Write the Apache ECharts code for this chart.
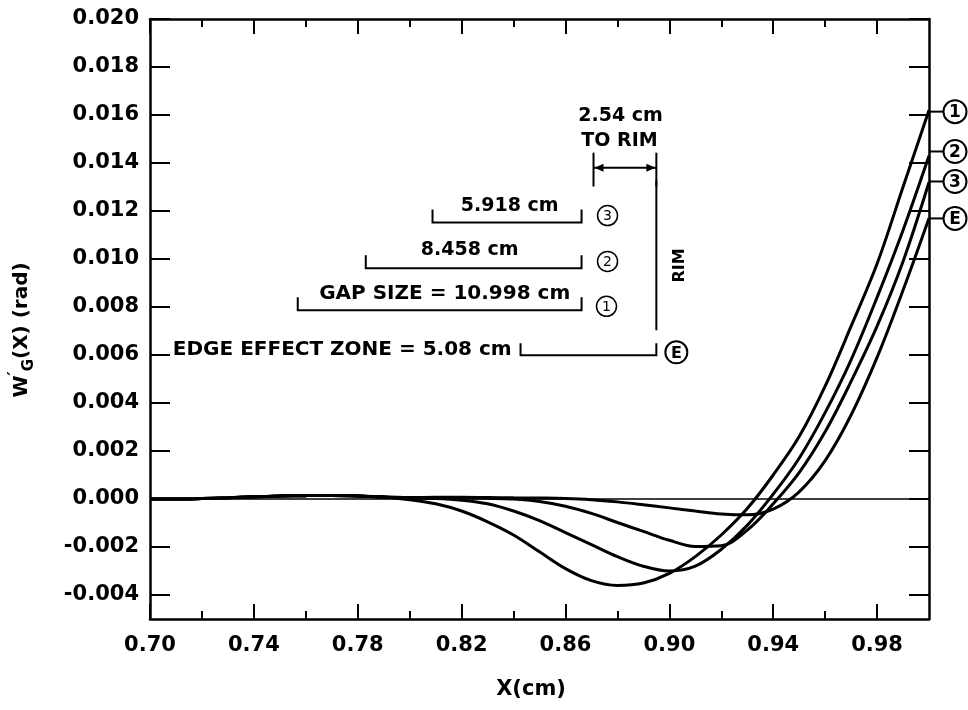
<!DOCTYPE html>
<html>
<head>
<meta charset="utf-8">
<script src="https://cdn.jsdelivr.net/npm/echarts@6/dist/echarts.min.js"></script>
<style>
html, body { margin: 0; padding: 0; background: #fff; }
#main { width: 968px; height: 710px; }
</style>
</head>
<body>
<div id="main"></div>
<script>
// positions along X (cm), one point every 0.01
var xValues = [0.70, 0.71, 0.72, 0.73, 0.74, 0.75, 0.76, 0.77, 0.78, 0.79,
               0.80, 0.81, 0.82, 0.83, 0.84, 0.85, 0.86, 0.87, 0.88, 0.89,
               0.90, 0.91, 0.92, 0.93, 0.94, 0.95, 0.96, 0.97, 0.98, 0.99, 1.00];

// curve 1 : gap size 10.998 cm
var curve1 = [0, 0, 0.00002, 0.00005, 0.00009, 0.00012, 0.00014, 0.00015, 0.00013, 0.00008,
              -0.00003, -0.0002, -0.0005, -0.00095, -0.0015, -0.0022, -0.0029, -0.0034, -0.0036, -0.0035,
              -0.0031, -0.0024, -0.0015, -0.0004, 0.0010, 0.0026, 0.0047, 0.0072, 0.0098, 0.0130, 0.0162];
// curve 2 : 8.458 cm
var curve2 = [0, 0, 0.00002, 0.00005, 0.00009, 0.00012, 0.00014, 0.00015, 0.00013, 0.00008,
              0.00004, 0.00002, -0.00005, -0.0002, -0.0005, -0.0009, -0.0014, -0.0019, -0.0024, -0.0028,
              -0.0030, -0.0028, -0.0021, -0.0011, 0.0002, 0.0017, 0.0036, 0.0058, 0.0084, 0.0112, 0.0143];
// curve 3 : 5.918 cm
var curve3 = [0, 0, 0.00002, 0.00005, 0.00009, 0.00012, 0.00014, 0.00015, 0.00013, 0.00008,
              0.00006, 0.00006, 0.00005, 0.00003, 0, -0.0001, -0.0003, -0.0006, -0.00098, -0.00135,
              -0.00172, -0.00198, -0.00195, -0.0013, -0.0002, 0.0011, 0.0028, 0.0049, 0.0072, 0.0099, 0.0132];
// curve E : edge effect zone 5.08 cm
var curveE = [0, 0, 0.00002, 0.00005, 0.00009, 0.00012, 0.00014, 0.00015, 0.00013, 0.00008,
              0.00006, 0.00007, 0.00007, 0.00006, 0.00005, 0.00004, 0.00002, -0.00003, -0.00012, -0.00024,
              -0.00037, -0.0005, -0.00062, -0.00066, -0.00042, 0.0003, 0.0016, 0.0035, 0.0059, 0.0087, 0.0117];

var curveNames = ['1', '2', '3', 'E'];
var xLabelTicks = [0.70, 0.74, 0.78, 0.82, 0.86, 0.90, 0.94, 0.98];
var xMinorTicks = [0.72, 0.76, 0.80, 0.84, 0.88, 0.92, 0.96];
var yTicks = [-0.004, -0.002, 0.000, 0.002, 0.004, 0.006, 0.008, 0.010,
              0.012, 0.014, 0.016, 0.018, 0.020];

var FONT = '"DejaVu Sans", "Liberation Sans", sans-serif';

var myChart = echarts.init(document.getElementById('main'));

function pairs(ys) {
    return xValues.map(function (x, i) { return [x, ys[i]]; });
}

function xAxisDef(pos, ticks, len, withLine, withLabel) {
    return {
        type: 'value', position: pos, min: 0.70, max: 1.00,
        axisLine: { show: withLine, onZero: false, lineStyle: { color: '#000', width: 2.5 } },
        axisTick: { show: true, inside: true, length: len, customValues: ticks,
                    lineStyle: { color: '#000', width: 2 } },
        axisLabel: { show: withLabel, customValues: xLabelTicks, margin: 16,
                     fontFamily: FONT, fontWeight: 'bold', fontSize: 21, color: '#000',
                     formatter: function (v) { return v.toFixed(2); } },
        splitLine: { show: false }
    };
}

function yAxisDef(pos, withLabel) {
    return {
        type: 'value', position: pos, min: -0.005, max: 0.020,
        axisLine: { show: true, onZero: false, lineStyle: { color: '#000', width: 2.5 } },
        axisTick: { show: true, inside: true, length: 20, customValues: yTicks,
                    lineStyle: { color: '#000', width: 2 } },
        axisLabel: { show: withLabel, customValues: yTicks, margin: 11,
                     fontFamily: FONT, fontWeight: 'bold', fontSize: 21, color: '#000',
                     formatter: function (v) { return v.toFixed(3); } },
        splitLine: { show: false }
    };
}

function curveSeries(name, ys) {
    return {
        name: name, type: 'line', data: pairs(ys),
        xAxisIndex: 0, yAxisIndex: 0,
        smooth: 0.35, showSymbol: false, symbol: 'none',
        lineStyle: { color: '#000', width: 3 }
    };
}

var series = [
    curveSeries(curveNames[0], curve1),
    curveSeries(curveNames[1], curve2),
    curveSeries(curveNames[2], curve3),
    curveSeries(curveNames[3], curveE)
];
// zero line across the plot
series[0].markLine = {
    silent: true, symbol: 'none', label: { show: false },
    lineStyle: { color: '#000', width: 1.5, type: 'solid' },
    data: [{ yAxis: 0 }]
};

option = {
    animation: false,
    backgroundColor: '#fff',
    grid: { left: 150, right: 39, top: 19, bottom: 91, outerBoundsMode: 'none' },
    xAxis: [
        xAxisDef('bottom', xLabelTicks, 15, true, true),
        xAxisDef('bottom', xMinorTicks, 8, false, false),
        xAxisDef('top', xLabelTicks, 15, true, false),
        xAxisDef('top', xMinorTicks, 8, false, false)
    ],
    yAxis: [
        yAxisDef('left', true),
        yAxisDef('right', false)
    ],
    series: series
};
myChart.setOption(option);

// ---- annotations, placed in data coordinates ----
function px(x, y) {
    return myChart.convertToPixel({ seriesIndex: 0 }, [x, y]);
}
function txt(p, s, size, align, extra) {
    var el = {
        type: 'text', x: p[0], y: p[1], silent: true,
        style: { text: s, fill: '#000', align: align || 'center', verticalAlign: 'middle',
                 font: 'bold ' + size + 'px ' + FONT }
    };
    if (extra) { for (var k in extra) el[k] = extra[k]; }
    return el;
}
function line(pts, w) {
    return { type: 'polyline', silent: true, shape: { points: pts },
             style: { stroke: '#000', lineWidth: w || 2, fill: null } };
}
function bracket(x0, x1, y, h) {
    var a = px(x0, y), b = px(x1, y);
    return line([[a[0], a[1] - h], a, b, [b[0], b[1] - h]], 2);
}
function circled(p, s, r, size, lw, weight) {
    return [
        { type: 'circle', silent: true, shape: { cx: p[0], cy: p[1], r: r },
          style: { fill: '#fff', stroke: '#000', lineWidth: lw } },
        { type: 'text', x: p[0], y: p[1] + 1, silent: true,
          style: { text: s, fill: '#000', align: 'center', verticalAlign: 'middle',
                   font: weight + ' ' + size + 'px ' + FONT } }
    ];
}
function arrowHead(p, dir) {
    return { type: 'polygon', silent: true,
             shape: { points: [p, [p[0] - dir * 9, p[1] - 4], [p[0] - dir * 9, p[1] + 4]] },
             style: { fill: '#000' } };
}

var g = [];
// 2.54 cm to rim
g.push(txt(px(0.8812, 0.01597), '2.54 cm', 19));
g.push(txt(px(0.8808, 0.01493), 'TO RIM', 19));
var rl = px(0.8708, 0.0138), rr = px(0.8950, 0.0138);
g.push(line([px(0.8708, 0.01443), px(0.8708, 0.01302)], 2));
g.push(line([px(0.8950, 0.01443), px(0.8950, 0.01302)], 2));
g.push(line([rl, rr], 2));
g.push(arrowHead([rl[0] + 1, rl[1]], -1));
g.push(arrowHead([rr[0] - 1, rr[1]], 1));
// rim line
g.push(line([px(0.8950, 0.01327), px(0.8950, 0.00703)], 2));
g.push(txt(px(0.9040, 0.00973), 'RIM', 16, 'center', { rotation: Math.PI / 2 }));

// gap brackets
g.push(bracket(0.8088, 0.8662, 0.01152, 13));
g.push(txt(px(0.8385, 0.01222), '5.918 cm', 19));
g.push(bracket(0.7831, 0.8662, 0.00961, 13));
g.push(txt(px(0.8231, 0.01038), '8.458 cm', 19));
g.push(bracket(0.7569, 0.8662, 0.00786, 13));
g.push(txt(px(0.8135, 0.00853), 'GAP SIZE = 10.998 cm', 20));
g = g.concat(circled(px(0.8762, 0.01181), '3', 10, 14, 1.5, 'normal'));
g = g.concat(circled(px(0.8762, 0.00990), '2', 10, 14, 1.5, 'normal'));
g = g.concat(circled(px(0.8758, 0.00803), '1', 10, 14, 1.5, 'normal'));

// edge effect zone
var ez = px(0.7088, 0.0062);
g.push(txt(ez, 'EDGE EFFECT ZONE = 5.08 cm', 20, 'left'));
g.push(bracket(0.8427, 0.8950, 0.00599, 12));
g = g.concat(circled(px(0.9027, 0.00611), 'E', 11, 16, 2, 'bold'));

// curve labels at the right edge
var labelY = [0.01614, 0.01448, 0.01323, 0.01169];
labelY.forEach(function (y, i) {
    var p = px(1.0, y);
    g.push(line([p, [p[0] + 15, p[1]]], 2));
    g = g.concat(circled([p[0] + 26, p[1]], curveNames[i], 11.5, 17, 2, 'bold'));
});

// y axis title with subscript
g.push({
    type: 'text', x: 22, y: 330, rotation: Math.PI / 2, silent: true,
    style: {
        text: '{m|W}{p|′}{s|G}{m|(X) (rad)}',
        align: 'center', verticalAlign: 'middle', fill: '#000',
        rich: {
            m: { font: 'bold 20px ' + FONT, fill: '#000', lineHeight: 30, verticalAlign: 'middle' },
            p: { font: 'bold 16px ' + FONT, fill: '#000', lineHeight: 30, verticalAlign: 'top' },
            s: { font: 'bold 15px ' + FONT, fill: '#000', lineHeight: 30, verticalAlign: 'bottom' }
        }
    }
});
// x axis title
g.push(txt([531, 690], 'X(cm)', 21));

myChart.setOption({ graphic: { elements: g } });
</script>
</body>
</html>
